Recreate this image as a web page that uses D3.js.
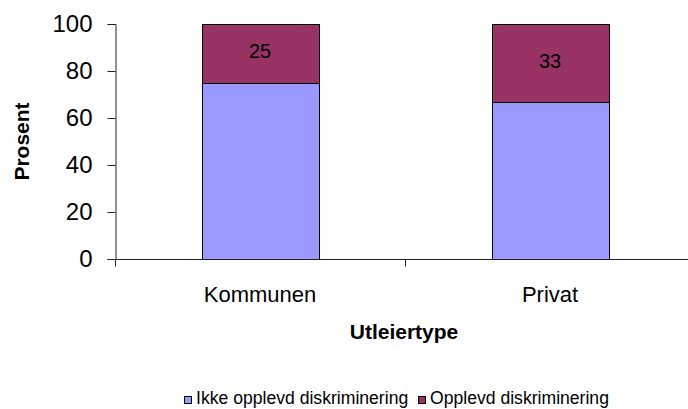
<!DOCTYPE html>
<html>
<head>
<meta charset="utf-8">
<style>
  body { margin: 0; background: #fff; }
  svg { font-family: Arial, "Liberation Sans", sans-serif; display: block; }
</style>
</head>
<body>
<script src="https://d3js.org/d3.v7.min.js"></script>
<script>
// data
var categories = ["Kommunen", "Privat"];
var ikkeOpplevd = [75, 67];
var opplevd = [25, 33];
var seriesNames = ["Ikke opplevd diskriminering", "Opplevd diskriminering"];
var seriesColors = ["#9999FF", "#993366"];
var yTicks = [0, 20, 40, 60, 80, 100];

var width = 688, height = 409;
var margin = {left: 115, right: -7, top: 24, bottom: 150};

var svg = d3.select("body").append("svg")
    .attr("width", width)
    .attr("height", height);

var rows = categories.map(function(c, i) {
  return {cat: c, ikke: ikkeOpplevd[i], opplevd: opplevd[i]};
});
var stack = d3.stack().keys(["ikke", "opplevd"])(rows);

var x = d3.scaleBand()
    .domain(categories)
    .range([margin.left, width - margin.right])
    .paddingInner(0.597)
    .paddingOuter(0.2985);

var y = d3.scaleLinear()
    .domain([0, 100])
    .range([height - margin.bottom, margin.top]);

// bars
var layers = svg.selectAll("g.layer")
  .data(stack)
  .enter().append("g")
    .attr("class", "layer")
    .attr("fill", function(d, i) { return seriesColors[i]; });

layers.selectAll("rect")
  .data(function(d) { return d; })
  .enter().append("rect")
    .attr("x", function(d) { return Math.round(x(d.data.cat)) + 0.5; })
    .attr("y", function(d) { return Math.round(y(d[1])) + 0.5; })
    .attr("width", Math.round(x.bandwidth()))
    .attr("height", function(d) { return Math.round(y(d[0])) - Math.round(y(d[1])); })
    .attr("stroke", "#000")
    .attr("stroke-width", 1);

// value labels on the top segment
svg.selectAll("text.val")
  .data(stack[1])
  .enter().append("text")
    .attr("class", "val")
    .attr("x", function(d) { return x(d.data.cat) + x.bandwidth() / 2; })
    .attr("y", function(d) { return (y(d[0]) + y(d[1])) / 2 + 5; })
    .attr("text-anchor", "middle")
    .style("font-size", "20px")
    .attr("fill", "#000")
    .text(function(d) { return d.data.opplevd; });

// y axis
var yAxis = svg.append("g")
    .attr("transform", "translate(" + (margin.left + 0.5) + ",0)")
    .call(d3.axisLeft(y).tickValues(yTicks).tickSize(8).tickPadding(15));
yAxis.selectAll("text").style("font-size", "24px").attr("fill", "#000");
yAxis.select(".domain").attr("stroke", "#222");
yAxis.selectAll(".tick line").attr("stroke", "#222");

// x axis with tick marks between categories
var xAxis = svg.append("g")
    .attr("transform", "translate(0," + (y(0) + 0.5) + ")");
xAxis.append("line")
    .attr("x1", margin.left).attr("x2", width - margin.right)
    .attr("stroke", "#222");
var step = x.step();
xAxis.selectAll("line.sep")
  .data(d3.range(categories.length + 1))
  .enter().append("line")
    .attr("class", "sep")
    .attr("x1", function(i) { return Math.round(margin.left + i * step) + 0.5; })
    .attr("x2", function(i) { return Math.round(margin.left + i * step) + 0.5; })
    .attr("y1", 0).attr("y2", 7)
    .attr("stroke", "#222");
xAxis.selectAll("text")
  .data(categories)
  .enter().append("text")
    .attr("x", function(d) { return x(d) + x.bandwidth() / 2; })
    .attr("y", 42)
    .attr("text-anchor", "middle")
    .style("font-size", "22px")
    .attr("fill", "#000")
    .text(function(d) { return d; });

// axis titles
svg.append("text")
    .attr("x", 404)
    .attr("y", 339)
    .attr("text-anchor", "middle")
    .style("font-size", "21px")
    .style("font-weight", "bold")
    .text("Utleiertype");

svg.append("text")
    .attr("transform", "translate(29," + ((y(0) + y(100)) / 2) + ") rotate(-90)")
    .attr("text-anchor", "middle")
    .style("font-size", "21px")
    .style("font-weight", "bold")
    .text("Prosent");

// legend
var legendX = [184, 418];
var legend = svg.selectAll("g.leg")
  .data(seriesNames)
  .enter().append("g")
    .attr("class", "leg")
    .attr("transform", function(d, i) { return "translate(" + legendX[i] + ",396)"; });
legend.append("rect")
    .attr("x", 0.5).attr("y", 0.5)
    .attr("width", 7).attr("height", 7)
    .attr("fill", function(d, i) { return seriesColors[i]; })
    .attr("stroke", "#000");
legend.append("text")
    .attr("x", 12)
    .attr("y", 8)
    .style("font-size", "17.6px")
    .attr("fill", "#000")
    .text(function(d) { return d; });
</script>
</body>
</html>
